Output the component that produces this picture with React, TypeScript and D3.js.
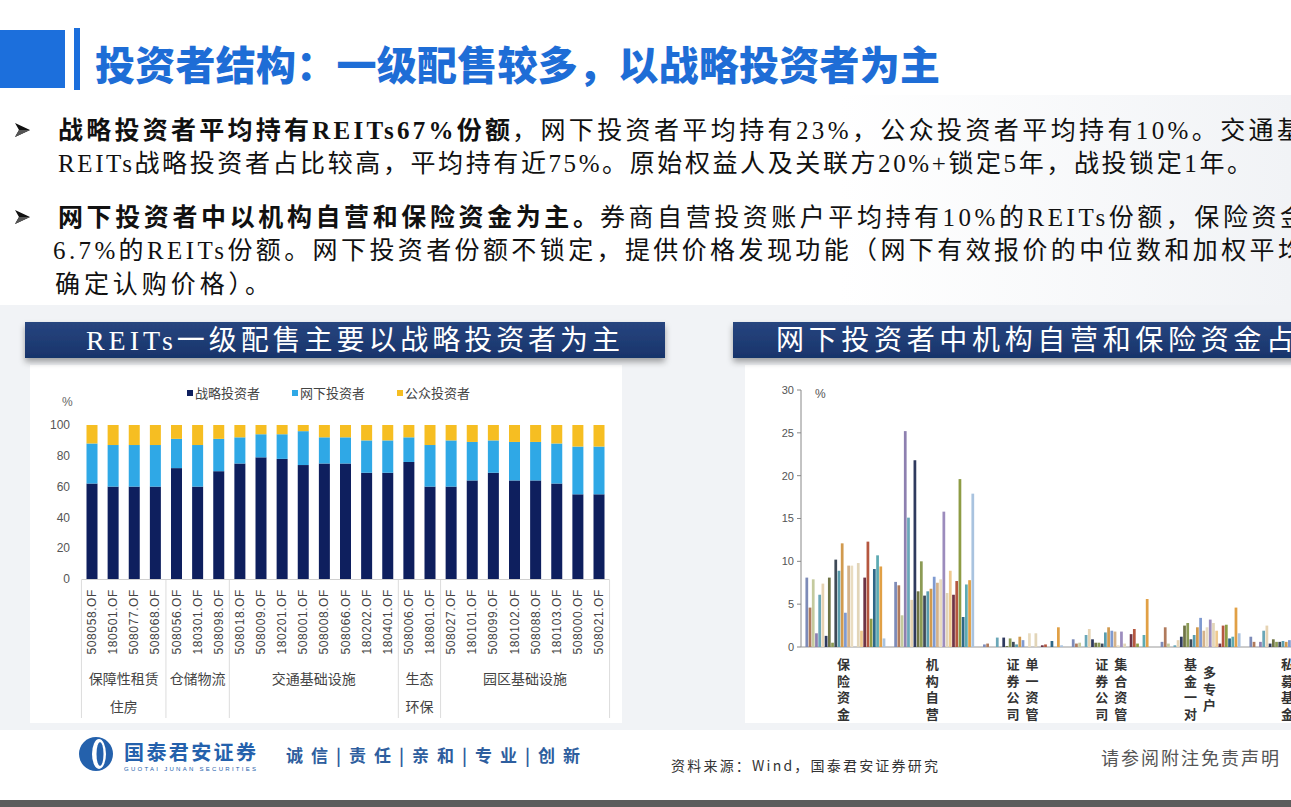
import React from 'react';
import * as d3 from 'd3';

const W = 1291;
const H = 807;

// ---------- Left chart data ----------
const reitCodes = ["508058.OF","180501.OF","508077.OF","508068.OF","508056.OF","180301.OF","508098.OF","508018.OF","508009.OF","180201.OF","508001.OF","508008.OF","508066.OF","180202.OF","180401.OF","508006.OF","180801.OF","508027.OF","180101.OF","508099.OF","180102.OF","508088.OF","180103.OF","508000.OF","508021.OF"];
const strategicShare = [62,60,60,60,72,60,70,75,79,78,74,75,75,69,69,76,60,60,64,69,64,64,62,55,55];
const offlineShare = [26,27,27,27,19,27,21,17,15,16,22,17,17,21,21,16,27,30,25,21,25,25,26,31,31];
const publicShare = [12,13,13,13,9,13,9,8,6,6,4,8,8,10,10,8,13,10,11,10,11,11,12,14,14];
const seriesNames = ["战略投资者","网下投资者","公众投资者"];
const seriesColors = ["#0e1f5e","#2fa8e6","#f6be22"];
const sectorSizes = [4,3,8,2,8];
const sectorLabelLines = [["保障性租赁","住房"],["仓储物流"],["交通基础设施"],["生态","环保"],["园区基础设施"]];
const leftTicks = [0,20,40,60,80,100];

// ---------- Right chart data ----------
const investorTypes = ["保险资金","机构自营","证券公司单一资管","证券公司集合资管","基金一对多专户","私募基金"];
const typeLabelCols = [["保险资金"],["机构自营"],["证券公司","单一资管"],["证券公司","集合资管"],["基金一对","多专户"],["私募基金"]];
const insuranceFunds = [8.1,4.6,7.9,1.6,6.1,7.4,1.3,8.1,0.5,10.2,8.9,12.1,4.0,9.5,9.5,0,9.8,1.9,8.1,12.3,3.3,9.1,10.7,9.4,1.0];
const proprietary = [7.6,7.2,3.7,25.2,15.1,5.5,21.8,6.5,10.0,6.0,6.5,6.8,8.2,7.5,7.9,15.8,6.3,8.9,6.1,7.7,19.6,3.5,7.3,7.8,17.9];
const brokerSingle = [0.3,0.4,0,0,1.1,0,1.1,0.1,1.0,0.6,0.3,1.2,0.8,0,1.6,0,1.6,0,0.2,0.3,0,0.7,0,2.3,0.2];
const brokerCollective = [0.9,0.4,0.5,0,1.4,2.1,0.9,0.5,0.5,0.4,1.7,2.3,1.9,1.8,0.2,1.8,0.4,0,1.5,2.1,0.4,0,1.4,5.6,0];
const fundAccounts = [0.6,2.3,0.4,0,0.2,0.8,1.2,2.5,2.8,0.9,1.4,2.3,3.4,1.9,2.3,3.2,2.8,1.9,0.4,2.5,2.6,1.0,1.2,4.6,1.6];
const privateFunds = [1.2,0.6,0,0.6,1.9,2.5,0.4,0.9,0.6,0.6,0.7,0.6,0.8];
const rightValues = [insuranceFunds, proprietary, brokerSingle, brokerCollective, fundAccounts, privateFunds];
const reitPalette = ["#7d8bb8","#b07a5c","#c4ca9e","#8e80b0","#6aa7b8","#e6d3b3","#2f3a5e","#6f7445","#8c9b55","#3f4a57","#5a9dae","#d19a4e","#7f9ad0","#d4b28a","#e9dcc0","#9c8cbd","#e2d5b8","#efc98e","#6e3446","#b5573f","#8e9c45","#2e6787","#5daab2","#e1a045","#a9c3df"];
const rightTicks = [0,5,10,15,20,25,30];

// ---------- Texts ----------
const titleText = "投资者结构：一级配售较多，以战略投资者为主";
const leftBanner = "REITs一级配售主要以战略投资者为主";
const rightBanner = "网下投资者中机构自营和保险资金占";

const serif = "'Liberation Serif','Noto Sans CJK SC',serif";
const sans = "'Liberation Sans','Noto Sans CJK SC',sans-serif";
const cjk = "'Noto Sans CJK SC',sans-serif";

function Arrow({ x, y }: { x: number; y: number }) {
  return (
    <g transform={`translate(${x},${y})`}>
      <path d="M0,-7 L15,0 L0,7 L4,0 Z" fill="#111" />
      <path d="M4,0 L0,7 L15,0 Z" fill="#555" />
    </g>
  );
}

export default function App() {
  // left chart scales
  const lx = d3.scalePoint<string>().domain(reitCodes).range([92, 599]);
  const lstep = lx.step();
  const ly = d3.scaleLinear().domain([0, 100]).range([579, 425]);
  const rows = reitCodes.map((c, i) => ({ code: c, s: strategicShare[i], o: offlineShare[i], p: publicShare[i] }));
  const stacked = d3.stack<any>().keys(["s", "o", "p"])(rows);
  const barW = 11;

  // sector boundaries
  const bounds: number[] = [];
  let acc = 0;
  const sectorRanges = sectorSizes.map((n) => {
    const start = acc;
    acc += n;
    return [start, acc - 1];
  });
  sectorRanges.forEach(([, e], i) => {
    if (i < sectorRanges.length - 1) bounds.push((lx(reitCodes[e])! + lx(reitCodes[e + 1])!) / 2);
  });
  const leftEdge = lx(reitCodes[0])! - lstep / 2;
  const rightEdge = lx(reitCodes[reitCodes.length - 1])! + lstep / 2;

  // right chart scales
  const rStep = 88.8;
  const rg = d3.scaleBand<string>().domain(investorTypes).range([801, 801 + rStep * investorTypes.length]).paddingInner(0.1).paddingOuter(0.05);
  const rInner = d3.scaleBand<number>().domain(d3.range(25)).range([0, rg.bandwidth()]).paddingInner(0.15);
  const ry = d3.scaleLinear().domain([0, 30]).range([647, 390]);

  return (
    <svg width={W} height={H} style={{ position: 'absolute', left: 0, top: 0, background: '#fff' }}>
      <defs>
        <filter id="shadow" x="-5%" y="-30%" width="110%" height="180%">
          <feDropShadow dx="0" dy="4" stdDeviation="3" floodColor="#000" floodOpacity="0.35" />
        </filter>
        <linearGradient id="bannerGrad" x1="0" y1="0" x2="0" y2="1">
          <stop offset="0" stopColor="#27457f" />
          <stop offset="1" stopColor="#18346b" />
        </linearGradient>
        <linearGradient id="bgGrad" x1="0" y1="0" x2="1" y2="0">
          <stop offset="0" stopColor="#ffffff" />
          <stop offset="0.4" stopColor="#ffffff" />
          <stop offset="1" stopColor="#f1f3f6" />
        </linearGradient>
      </defs>
      <rect x={0} y={0} width={W} height={H} fill="#ffffff" />
      <rect x={540} y={95} width={751} height={210} fill="url(#bgGrad)" />
      <rect x={0} y={305} width={W} height={425} fill="#f1f3f6" />
      <rect x={30} y={365} width={592} height={358} fill="#ffffff" />
      <rect x={745} y={365} width={546} height={358} fill="#ffffff" />

      {/* Title */}
      <rect x={0} y={30} width={65} height={58} fill="#1c6fdc" />
      <rect x={74} y={28} width={6} height={62} fill="#1c6fdc" />
      <text x={95} y={80} fontFamily={cjk} fontWeight={900} fontSize={40} fill="#1e6dd6" textLength={845} lengthAdjust="spacing">{titleText}</text>

      {/* Bullets */}
      <Arrow x={15} y={130} />
      <Arrow x={15} y={217} />
      <g fontFamily={serif} fontSize={25} fill="#111">
        <text x={58} y={139} fontWeight={700} textLength={452} lengthAdjust="spacing">战略投资者平均持有REITs67%份额</text>
        <text x={512} y={139} textLength={790} lengthAdjust="spacing">，网下投资者平均持有23%，公众投资者平均持有10%。交通基</text>
        <text x={58} y={172} textLength={1194} lengthAdjust="spacing">REITs战略投资者占比较高，平均持有近75%。原始权益人及关联方20%+锁定5年，战投锁定1年。</text>
        <text x={58} y={226} fontWeight={700} textLength={540} lengthAdjust="spacing">网下投资者中以机构自营和保险资金为主。</text>
        <text x={600} y={226} textLength={705} lengthAdjust="spacing">券商自营投资账户平均持有10%的REITs份额，保险资金</text>
        <text x={53} y={259} textLength={1250} lengthAdjust="spacing">6.7%的REITs份额。网下投资者份额不锁定，提供价格发现功能（网下有效报价的中位数和加权平均</text>
        <text x={55} y={293} textLength={215} lengthAdjust="spacing">确定认购价格）。</text>
      </g>

      {/* Banners */}
      <rect x={25} y={322} width={640} height={36} fill="url(#bannerGrad)" filter="url(#shadow)" />
      <text x={86} y={350} fontFamily={serif} fontSize={28} fill="#fff" textLength={534} lengthAdjust="spacing">{leftBanner}</text>
      <rect x={733} y={322} width={570} height={36} fill="url(#bannerGrad)" filter="url(#shadow)" />
      <text x={776} y={350} fontFamily={serif} fontSize={28} fill="#fff" textLength={518} lengthAdjust="spacing">{rightBanner}</text>

      {/* Left chart */}
      <g fontFamily={sans}>
        <text x={62} y={406} fontSize={12} fill="#666">%</text>
        {leftTicks.map((t) => (
          <text key={t} x={70} y={ly(t)} dy="0.35em" textAnchor="end" fontSize={12} fill="#555">{t}</text>
        ))}
        {/* legend */}
        {seriesNames.map((n, i) => {
          const lx0 = [187, 292, 397][i];
          return (
            <g key={n}>
              <rect x={lx0} y={390} width={6} height={6} fill={seriesColors[i]} />
              <text x={lx0 + 8} y={397.5} fontFamily={cjk} fontSize={13} fill="#444">{n}</text>
            </g>
          );
        })}
        {stacked.map((layer, li) => (
          <g key={li} fill={seriesColors[li]}>
            {layer.map((d, i) => (
              <rect key={i} x={lx(reitCodes[i])! - barW / 2} y={ly(d[1])} width={barW} height={ly(d[0]) - ly(d[1])} />
            ))}
          </g>
        ))}
        <line x1={leftEdge} x2={rightEdge} y1={579.5} y2={579.5} stroke="#d0d0d0" />
        {[leftEdge, ...bounds, rightEdge].map((b, i) => (
          <line key={i} x1={b} x2={b} y1={580} y2={718} stroke="#dcdcdc" />
        ))}
        {reitCodes.map((c) => (
          <text key={c} transform={`translate(${lx(c)! + 4},${589}) rotate(-90)`} textAnchor="end" fontSize={12} fill="#444" letterSpacing={0.6}>{c}</text>
        ))}
        {sectorRanges.map(([s, e], i) => {
          const cx = (lx(reitCodes[s])! + lx(reitCodes[e])!) / 2;
          return sectorLabelLines[i].map((line, j) => (
            <text key={`${i}-${j}`} x={cx} y={684 + j * 28} textAnchor="middle" fontFamily={cjk} fontSize={14} fill="#444">{line}</text>
          ));
        })}
      </g>

      {/* Right chart */}
      <g fontFamily={sans}>
        <line x1={801} x2={801} y1={ry(30)} y2={ry(0)} stroke="#888" />
        <line x1={801} x2={W} y1={ry(0)} y2={ry(0)} stroke="#999" />
        {rightTicks.map((t) => (
          <g key={t}>
            <line x1={797} x2={801} y1={ry(t)} y2={ry(t)} stroke="#888" />
            <text x={794} y={ry(t)} dy="0.35em" textAnchor="end" fontSize={11} fill="#555">{t}</text>
          </g>
        ))}
        <text x={815} y={398} fontSize={12} fill="#555">%</text>
        {investorTypes.map((g, gi) => (
          <g key={g}>
            {rightValues[gi].map((v, i) => (
              <rect key={i} x={rg(g)! + rInner(i)!} y={ry(v)} width={rInner.bandwidth()} height={ry(0) - ry(v)} fill={reitPalette[i]} />
            ))}
          </g>
        ))}
        {investorTypes.map((g, gi) => {
          const cx = rg(g)! + rg.bandwidth() / 2;
          const cols = typeLabelCols[gi];
          const offs = cols.length === 1 ? [-2] : [-10, 9];
          return cols.map((col, ci) => (
            <g key={`${g}-${ci}`}>
              {Array.from(col).map((ch, k) => (
                <text key={k} x={cx + offs[ci]} y={669 + k * 16.5 + (gi === 4 && ci === 1 ? 8 : 0)} textAnchor="middle" fontFamily={cjk} fontWeight={700} fontSize={13} fill="#333">{ch}</text>
              ))}
            </g>
          ));
        })}
      </g>

      {/* Footer */}
      <g>
        <circle cx={96} cy={754} r={17} fill="#2461ac" />
        <ellipse cx={99} cy={754} rx={7} ry={15} fill="#ffffff" />
        <ellipse cx={100} cy={754} rx={3.5} ry={12} fill="#2461ac" />
        <text x={124} y={760} fontFamily={cjk} fontWeight={700} fontSize={20} fill="#2461ac" textLength={132} lengthAdjust="spacing">国泰君安证券</text>
        <text x={124} y={771} fontFamily={sans} fontSize={6} fill="#2461ac" textLength={132} lengthAdjust="spacing">GUOTAI JUNAN SECURITIES</text>
        <text x={286} y={762} fontFamily={cjk} fontWeight={700} fontSize={17} fill="#2e5e9e" textLength={294} lengthAdjust="spacing">诚信|责任|亲和|专业|创新</text>
        <text x={671} y={771} fontFamily={cjk} fontSize={14} fill="#333" textLength={267} lengthAdjust="spacing">资料来源：Wind，国泰君安证券研究</text>
        <text x={1101} y={765} fontFamily={cjk} fontSize={18} fill="#555" textLength={178} lengthAdjust="spacing">请参阅附注免责声明</text>
        <rect x={0} y={800} width={W} height={7} fill="#5c5c5c" />
      </g>
    </svg>
  );
}
